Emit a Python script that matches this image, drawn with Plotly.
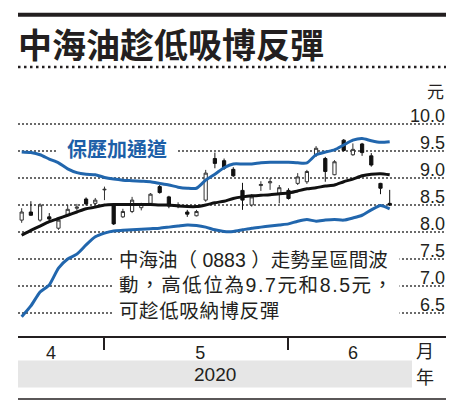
import plotly.graph_objects as go

# ---- data ----
dates = (
    ["2020-04-%02d" % d for d in [17, 20, 21, 22, 23, 24, 27, 28, 29]]
    + ["2020-05-%02d" % d for d in [4, 5, 6, 7, 8, 11, 12, 13, 14, 15, 18, 19, 20, 21, 22, 25, 26, 27, 28, 29]]
    + ["2020-06-%02d" % d for d in [1, 2, 3, 4, 5, 8, 9, 10, 11, 12, 15, 16]]
)
opens = [8.22, 8.37, 8.22, 8.28, 8.07, 8.31, 8.44, 8.61, 8.53,
         8.78, 8.50, 8.28, 8.38, 8.45, 8.53, 8.84, 8.65, 8.48, 8.37, 8.30,
         8.59, 9.36, 9.32, 9.16, 8.77, 8.50, 8.86, 8.91, 8.70, 8.77,
         8.90, 8.93, 9.43, 9.36, 9.06, 9.70, 9.43, 9.63, 9.41, 8.90, 8.53]
highs = [8.44, 8.57, 8.53, 8.35, 8.26, 8.50, 8.52, 8.64, 8.63,
         8.84, 8.52, 8.43, 8.65, 8.54, 8.72, 8.87, 8.67, 8.55, 8.41, 8.41,
         9.15, 9.47, 9.36, 9.20, 8.91, 8.70, 8.94, 9.00, 8.87, 8.81,
         9.09, 9.15, 9.59, 9.39, 9.33, 9.72, 9.64, 9.65, 9.46, 8.91, 8.78]
lows = [8.17, 8.30, 8.19, 8.17, 8.04, 8.30, 8.40, 8.49, 8.50,
        8.59, 8.13, 8.26, 8.35, 8.40, 8.51, 8.71, 8.44, 8.44, 8.28, 8.29,
        8.56, 9.18, 9.15, 9.02, 8.41, 8.47, 8.76, 8.78, 8.53, 8.60,
        8.87, 8.89, 9.39, 8.93, 9.05, 9.49, 9.41, 9.41, 9.21, 8.70, 8.48]
closes = [8.37, 8.31, 8.50, 8.24, 8.22, 8.42, 8.46, 8.52, 8.59,
          8.79, 8.15, 8.38, 8.59, 8.52, 8.70, 8.73, 8.48, 8.50, 8.33, 8.38,
          9.09, 9.27, 9.18, 9.04, 8.59, 8.65, 8.88, 8.93, 8.82, 8.62,
          9.02, 9.12, 9.55, 9.12, 9.30, 9.51, 9.53, 9.47, 9.24, 8.81, 8.50]
upper_band = [9.48, 9.47, 9.43, 9.35, 9.28, 9.17, 9.10, 9.07, 9.06,
              9.01, 8.98, 8.96, 8.95, 8.94, 8.93, 8.90, 8.87, 8.83, 8.81, 8.81,
              8.96, 9.07, 9.19, 9.26, 9.26, 9.26, 9.28, 9.29, 9.29, 9.29,
              9.28, 9.28, 9.43, 9.48, 9.52, 9.61, 9.70, 9.73, 9.69, 9.66, 9.67]
middle_band = [7.94, 8.03, 8.11, 8.19, 8.25, 8.31, 8.37, 8.43, 8.46,
               8.50, 8.51, 8.51, 8.51, 8.51, 8.51, 8.50, 8.50, 8.48, 8.47, 8.47,
               8.50, 8.54, 8.57, 8.62, 8.65, 8.67, 8.68, 8.69, 8.71, 8.72,
               8.76, 8.80, 8.82, 8.85, 8.87, 8.93, 8.98, 9.04, 9.07, 9.08, 9.06]
lower_band = [6.43, 6.63, 6.89, 7.02, 7.33, 7.50, 7.59, 7.76, 7.91,
              7.98, 8.02, 8.03, 8.04, 8.05, 8.06, 8.07, 8.09, 8.11, 8.13, 8.12,
              8.09, 8.04, 8.01, 8.01, 8.04, 8.07, 8.09, 8.11, 8.13, 8.15,
              8.20, 8.23, 8.20, 8.22, 8.23, 8.22, 8.26, 8.31, 8.41, 8.49, 8.43]
y_ticks = [6.5, 7.0, 7.5, 8.0, 8.5, 9.0, 9.5, 10.0]
month_labels = ["4", "5", "6"]

# ---- derived ----
xs = list(range(len(dates)))
months = [d[5:7] for d in dates]
month_starts = [i for i in xs if i == 0 or months[i] != months[i - 1]]

INK = "#231f20"
BLUE = "#2166ad"
FONT_LAT = "Liberation Sans, Arial, Noto Sans CJK TC"
FONT_CJK = "Noto Sans CJK TC, Liberation Sans"

fig = go.Figure()
fig.add_trace(go.Candlestick(
    x=xs, open=opens, high=highs, low=lows, close=closes,
    increasing=dict(line=dict(color="#333333", width=1), fillcolor="white"),
    decreasing=dict(line=dict(color="#111111", width=1), fillcolor="#111111"),
    whiskerwidth=0, showlegend=False, hoverinfo="skip",
))
fig.add_trace(go.Scatter(x=xs, y=upper_band, mode="lines",
                         line=dict(color=BLUE, width=3, shape="spline", smoothing=0.6),
                         showlegend=False, hoverinfo="skip"))
fig.add_trace(go.Scatter(x=xs, y=lower_band, mode="lines",
                         line=dict(color=BLUE, width=3, shape="spline", smoothing=0.6),
                         showlegend=False, hoverinfo="skip"))
fig.add_trace(go.Scatter(x=xs, y=middle_band, mode="lines",
                         line=dict(color="#111111", width=3, shape="spline", smoothing=0.6),
                         showlegend=False, hoverinfo="skip"))

note = ('中海油（ 0883 ）走勢呈區間波<br>'
        '<span style="letter-spacing:1.6px">動，高低位為9.7元和8.5元，</span><br>'
        '<span style="letter-spacing:0.6px">可趁低吸納博反彈</span>')

# dotted horizontal guide lines at each y tick value
grid_shapes = [
    dict(type="line", xref="paper", yref="y", x0=0, x1=1, y0=v, y1=v,
         line=dict(color="#3a3a3a", width=1.3, dash="2px,2px"), layer="below")
    for v in y_ticks
]

fig.update_layout(
    template="none",
    width=461, height=414,
    margin=dict(l=18, r=15, t=100, b=78),
    paper_bgcolor="white", plot_bgcolor="rgba(0,0,0,0)",
    boxgap=0.5,
    xaxis=dict(
        range=[-0.4, 46.12], rangeslider=dict(visible=False),
        showgrid=False, zeroline=False,
        showline=True, linecolor=INK, linewidth=1.5,
        tickmode="array", tickvals=[3.2, 19.4, 36.0], ticktext=month_labels,
        ticks="", ticklabelstandoff=0,
        tickfont=dict(family=FONT_LAT, size=18, color=INK),
        minor=dict(tickmode="array", tickvals=month_starts[1:], ticks="outside",
                   ticklen=12, tickwidth=1.5, tickcolor=INK, showgrid=False),
    ),
    yaxis=dict(
        range=[6.074, 10.444], side="right",
        tickmode="array", tickvals=y_ticks, ticktext=["%.1f" % v for v in y_ticks],
        ticklabelposition="inside", ticks="", ticklabelshift=-8, ticklabelstandoff=-2,
        tickfont=dict(family=FONT_LAT, size=18, color=INK),
        showgrid=False, zeroline=False, showline=False,
    ),
    shapes=grid_shapes + [
        dict(type="rect", xref="paper", yref="paper", x0=0, x1=1, y0=1.353, y1=1.370,
             fillcolor=INK, line=dict(width=0)),
        dict(type="line", xref="paper", yref="paper", x0=0, x1=1, y0=1.140, y1=1.140,
             line=dict(color=INK, width=2.5, dash="2.5px,3.5px")),
        dict(type="rect", xref="paper", yref="paper", x0=0, x1=0.9206, y0=-0.218, y1=-0.104,
             fillcolor="#e6e6e6", line=dict(width=0)),
        dict(type="line", xref="paper", yref="paper", x0=0, x1=1, y0=-0.267, y1=-0.267,
             line=dict(color=INK, width=1.5)),
    ],
    annotations=[
        dict(text="中海油趁低吸博反彈", xref="paper", yref="paper", x=-0.005, y=1.2415,
             xanchor="left", yanchor="middle", showarrow=False,
             font=dict(family=FONT_CJK, size=34, color=INK, weight="bold")),
        dict(text="元", xref="paper", yref="paper", x=1.0, y=1.04,
             xanchor="right", yanchor="middle", showarrow=False,
             font=dict(family=FONT_CJK, size=17, color=INK)),
        dict(text="保歷加通道", xref="paper", yref="paper", x=0.231, y=0.797,
             xanchor="center", yanchor="middle", showarrow=False,
             width=120, height=22, bgcolor="white", borderpad=0,
             font=dict(family=FONT_CJK, size=20, color="#1d5fa8", weight="bold")),
        dict(text=note,
             xref="paper", yref="paper", x=0.222, y=0.216,
             xanchor="left", yanchor="middle", align="left", showarrow=False,
             bgcolor="white", borderpad=5,
             font=dict(family=FONT_LAT, size=19.5, color=INK)),
        dict(text="月", xref="paper", yref="paper", x=0.951, y=-0.059,
             xanchor="center", yanchor="middle", showarrow=False,
             font=dict(family=FONT_CJK, size=18, color=INK)),
        dict(text="2020", xref="paper", yref="paper", x=0.46, y=-0.165,
             xanchor="center", yanchor="middle", showarrow=False,
             font=dict(family=FONT_LAT, size=19, color=INK)),
        dict(text="年", xref="paper", yref="paper", x=0.951, y=-0.169,
             xanchor="center", yanchor="middle", showarrow=False,
             font=dict(family=FONT_CJK, size=18, color=INK)),
    ],
)

fig.write_html("out.html", config={"displayModeBar": False},
               post_script="document.body.style.margin='0px';")
